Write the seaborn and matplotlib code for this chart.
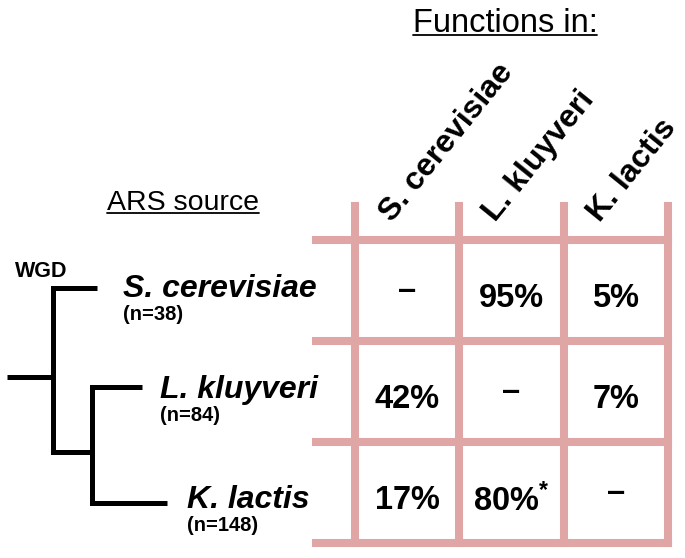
import numpy as np
import matplotlib
matplotlib.use("Agg")
import matplotlib.pyplot as plt
import seaborn as sns
from matplotlib.colors import ListedColormap

# ============================================
# DATA
# ============================================

species = ["S. cerevisiae", "L. kluyveri", "K. lactis"]
n_ars = [38, 84, 148]

# % of ARSs from row species that function in column species
pct = [[np.nan, 95, 5],
       [42, np.nan, 7],
       [17, 80, np.nan]]
starred = [[False, False, False],
           [False, False, False],
           [False, True, False]]

# ============================================
# STYLE
# ============================================

sns.set_theme(style="white")
plt.rcParams["font.family"] = ["Liberation Sans", "DejaVu Sans"]
plt.rcParams["text.color"] = "black"
plt.rcParams["mathtext.fontset"] = "custom"
plt.rcParams["mathtext.rm"] = "Liberation Sans:bold"
plt.rcParams["mathtext.default"] = "regular"

pink = "#e0a6a6"
W, H = 685, 558

fig = plt.figure(figsize=(W / 100, H / 100), dpi=100)

# pixel-space canvas for the tree and titles
bg = fig.add_axes([0, 0, 1, 1])
bg.set_xlim(0, W)
bg.set_ylim(H, 0)
bg.axis("off")

# ============================================
# GRID (heatmap)
# ============================================

gx0, gx1, gy0, gy1 = 355, 668, 240, 543
ax = fig.add_axes([gx0 / W, 1 - gy1 / H, (gx1 - gx0) / W, (gy1 - gy0) / H])

dash = "\u2013"
labels = []
for r, row in enumerate(pct):
    lab_row = []
    for c, v in enumerate(row):
        if np.isnan(v):
            lab_row.append(dash)
        else:
            lab_row.append(f"{v:.0f}%" + (r"$^{*}$" if starred[r][c] else ""))
    labels.append(lab_row)

sns.heatmap(np.nan_to_num(np.array(pct)), ax=ax, cmap=ListedColormap(["white"]),
            cbar=False, annot=np.array(labels), fmt="", linewidths=0,
            xticklabels=False, yticklabels=False,
            annot_kws=dict(size=23.5, weight="bold", color="black"))

# nudge the cell labels a little below centre, dashes sit higher
for t in ax.texts:
    x, y = t.get_position()
    t.set_position((x, y + (0.0 if t.get_text() == dash else 0.08)))

n = len(species)
hl = ax.hlines(range(n + 1), -0.37, n, colors=pink, lw=5.8, clip_on=False)
vl = ax.vlines(range(n + 1), -0.34, n, colors=pink, lw=5.8, clip_on=False)
for lc in (hl, vl):
    lc.set_capstyle("projecting")

# column headers
for i, name in enumerate(species):
    ax.text(i + 0.35, -0.17, name, rotation=51, rotation_mode="anchor",
            ha="left", va="baseline", fontsize=23, weight="bold",
            color="black", clip_on=False)

# ============================================
# TREE + ROW LABELS
# ============================================

tree_kw = dict(color="black", lw=3.6, solid_joinstyle="miter",
               solid_capstyle="butt")
bg.plot([7, 53], [377, 377], **tree_kw)
bg.plot([97, 53, 53, 92], [288, 288, 452, 452], **tree_kw)
bg.plot([142, 92, 92, 167], [387, 387, 503, 503], **tree_kw)

bg.text(15, 277, "WGD", fontsize=15.5, weight="bold", va="baseline")

label_x = [123, 160, 187]
label_y = [297, 398, 508]
for name, cnt, x, y in zip(species, n_ars, label_x, label_y):
    bg.text(x, y, name, fontsize=23, weight="bold", style="italic",
            va="baseline")
    bg.text(x, y + 23, f"(n={cnt})", fontsize=14.5, weight="bold",
            va="baseline")

# titles
t1 = bg.text(505, 32, "Functions in:", fontsize=23.5, ha="center", va="baseline")
t2 = bg.text(183, 210, "ARS source", fontsize=20.5, ha="center", va="baseline")

fig.canvas.draw()
inv = bg.transData.inverted()
for t, uy in ((t1, 35), (t2, 213)):
    bb = t.get_window_extent()
    (xa, _), (xb, _) = inv.transform([(bb.x0, bb.y0), (bb.x1, bb.y0)])
    bg.plot([xa, xb], [uy, uy], color="black", lw=1.3)

fig.savefig("out.png", dpi=100)
